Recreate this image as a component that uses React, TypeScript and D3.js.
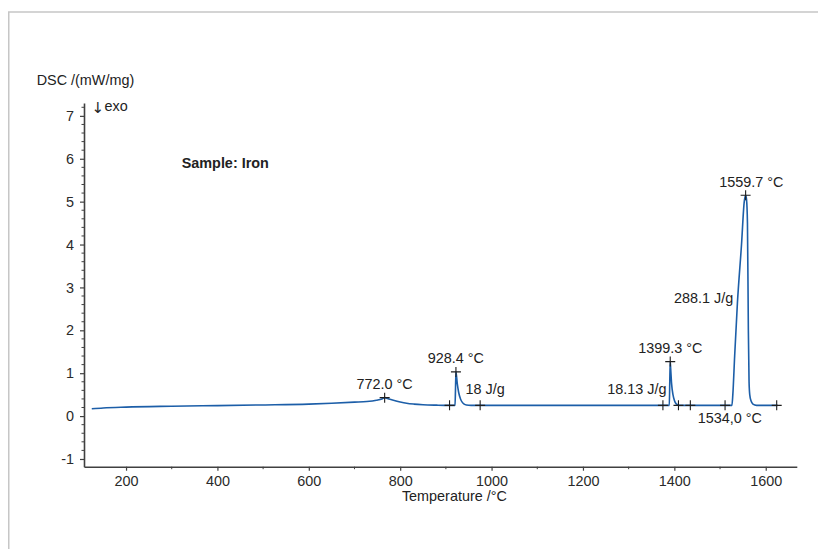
import * as d3 from "d3";
import { useLayoutEffect, useRef } from "react";

// DSC trace of iron (temperature °C, DSC mW/mg)
const TEMP = [
  125, 150, 200, 300, 400, 500, 600, 650, 700, 727,
  748, 760, 766, 775, 785, 800, 814, 830, 850, 880,
  908, 920, 921, 922, 925, 928, 932, 936, 940, 945,
  955, 975, 1375, 1389, 1390, 1391, 1392, 1394, 1397, 1400,
  1403, 1406, 1410, 1435, 1511, 1526, 1528, 1532, 1538, 1547,
  1553, 1556, 1558, 1560, 1562, 1563.5, 1565, 1568, 1572, 1580,
  1626,
];
const DSC = [
  0.17, 0.19, 0.21, 0.23, 0.245, 0.26, 0.28, 0.3, 0.325, 0.34,
  0.37, 0.4, 0.43, 0.4, 0.37, 0.33, 0.3, 0.28, 0.265, 0.255,
  0.25, 0.25, 0.6, 1.03, 0.75, 0.55, 0.4, 0.32, 0.28, 0.26,
  0.25, 0.25, 0.25, 0.25, 0.8, 1.27, 1.1, 0.75, 0.5, 0.37,
  0.3, 0.27, 0.25, 0.25, 0.25, 0.25, 0.5, 1.4, 2.63, 4.0,
  5.0, 5.15, 5.05, 4.5, 2.0, 0.8, 0.5, 0.35, 0.28, 0.25,
  0.25,
];

// evaluation markers (+)
const MARK_T = [766, 908, 922, 975, 1375, 1391, 1409, 1435, 1511, 1556, 1624];
const MARK_V = [0.43, 0.25, 1.03, 0.25, 0.25, 1.27, 0.25, 0.25, 0.25, 5.15, 0.25];

// peak temperatures, shown above their marker
const PEAK_TEXT = ["772.0 °C", "928.4 °C", "1399.3 °C", "1559.7 °C"];
const PEAK_MARK = [0, 2, 5, 9];

// enthalpy / onset labels
const NOTE_TEXT = ["18 J/g", "18.13 J/g", "288.1 J/g", "1534,0 °C"];
const NOTE_T = [943, 1383, 1529, 1451];
const NOTE_V = [0.51, 0.51, 2.63, -0.15];
const NOTE_ANCHOR = ["start", "end", "end", "start"];

const X_TICKS = [200, 400, 600, 800, 1000, 1200, 1400, 1600];
const Y_TICKS = [-1, 0, 1, 2, 3, 4, 5, 6, 7];

const W = 818;
const H = 541;
const FONT = "'Liberation Sans', Arial, sans-serif";

export default function App() {
  const ref = useRef<SVGSVGElement>(null);

  useLayoutEffect(() => {
    const svg = d3.select(ref.current);
    svg.selectAll("*").remove();

    const x = d3.scaleLinear().domain([108, 1668]).range([76, 788.8]);
    const y = d3.scaleLinear().domain([-1.18, 7.3]).range([458.7, 95]);

    // outer frame
    svg
      .append("path")
      .attr("d", `M0.75,${H}V4H${W}`)
      .attr("fill", "none")
      .attr("stroke", "#c6c6c6")
      .attr("stroke-width", 1.5);

    const axisColor = "#404040";

    // minor ticks
    const minorY = d3.range(-1.0, 7.3, 0.2).filter((v) => Math.abs(v - Math.round(v)) > 0.01);
    svg
      .append("g")
      .selectAll("line")
      .data(minorY)
      .enter()
      .append("line")
      .attr("x1", x.range()[0] - 2.5)
      .attr("x2", x.range()[0])
      .attr("y1", (d) => y(d))
      .attr("y2", (d) => y(d))
      .attr("stroke", axisColor);

    const minorX = d3.range(300, 1668, 200);
    svg
      .append("g")
      .selectAll("line")
      .data(minorX)
      .enter()
      .append("line")
      .attr("x1", (d) => x(d))
      .attr("x2", (d) => x(d))
      .attr("y1", y.range()[0])
      .attr("y2", y.range()[0] + 2.5)
      .attr("stroke", axisColor);

    const plain = (d: d3.NumberValue) => String(d);
    const gx = svg
      .append("g")
      .attr("transform", `translate(0,${y.range()[0]})`)
      .call(
        d3.axisBottom(x).tickValues(X_TICKS).tickFormat(plain).tickSize(4).tickSizeOuter(0).tickPadding(5)
      );
    const gy = svg
      .append("g")
      .attr("transform", `translate(${x.range()[0]},0)`)
      .call(
        d3.axisLeft(y).tickValues(Y_TICKS).tickFormat(plain).tickSize(4).tickSizeOuter(0).tickPadding(6)
      );

    [gx, gy].forEach((g) => {
      g.select(".domain").attr("stroke", axisColor).attr("stroke-width", 1.6);
      g.selectAll(".tick line").attr("stroke", axisColor).attr("stroke-width", 1.2);
      g.selectAll(".tick text")
        .attr("fill", "#2a2a2a")
        .style("font-family", FONT)
        .style("font-size", "14.4px");
    });

    const text = (tx: number, ty: number, s: string, anchor = "start", bold = false) =>
      svg
        .append("text")
        .attr("x", tx)
        .attr("y", ty)
        .attr("text-anchor", anchor)
        .attr("fill", "#222")
        .style("font-family", FONT)
        .style("font-size", "14.4px")
        .style("font-weight", bold ? "bold" : "normal")
        .text(s);

    text(28.7, 77, "DSC /(mW/mg)");
    const exo = text(83.5, 103, "");
    exo
      .append("tspan")
      .style("font-family", "'DejaVu Sans', sans-serif")
      .style("font-size", "15px")
      .attr("dy", 1.5)
      .text("↓");
    exo.append("tspan").attr("x", 96.5).attr("dy", -1.5).text("exo");
    text(173.7, 160.3, "Sample: Iron", "start", true);
    text((x.range()[0] + x.range()[1]) / 2 + 14, 492.7, "Temperature /°C", "middle");

    // curve
    const points = TEMP.map((t, i) => [t, DSC[i]] as [number, number]);
    const line = d3
      .line<[number, number]>()
      .x((d) => x(d[0]))
      .y((d) => y(d[1]))
      .curve(d3.curveMonotoneX);
    svg
      .append("path")
      .attr("d", line(points))
      .attr("fill", "none")
      .attr("stroke", "#1c5ea8")
      .attr("stroke-width", 1.6);

    // markers
    const marks = MARK_T.map((t, i) => [x(t), y(MARK_V[i])]);
    svg
      .append("g")
      .selectAll("path")
      .data(marks)
      .enter()
      .append("path")
      .attr("d", (d) => `M${d[0] - 5},${d[1]}H${d[0] + 5}M${d[0]},${d[1] - 5}V${d[1] + 5}`)
      .attr("stroke", "#1e1e1e")
      .attr("stroke-width", 1.1);

    PEAK_TEXT.forEach((s, i) => {
      const m = marks[PEAK_MARK[i]];
      const dx = i === 3 ? 5.6 : 0;
      text(m[0] + dx, m[1] - 8.5, s, "middle");
    });

    NOTE_TEXT.forEach((s, i) => {
      text(x(NOTE_T[i]), y(NOTE_V[i]), s, NOTE_ANCHOR[i]);
    });
  }, []);

  return <svg ref={ref} width={W} height={H} style={{ display: "block" }} />;
}
